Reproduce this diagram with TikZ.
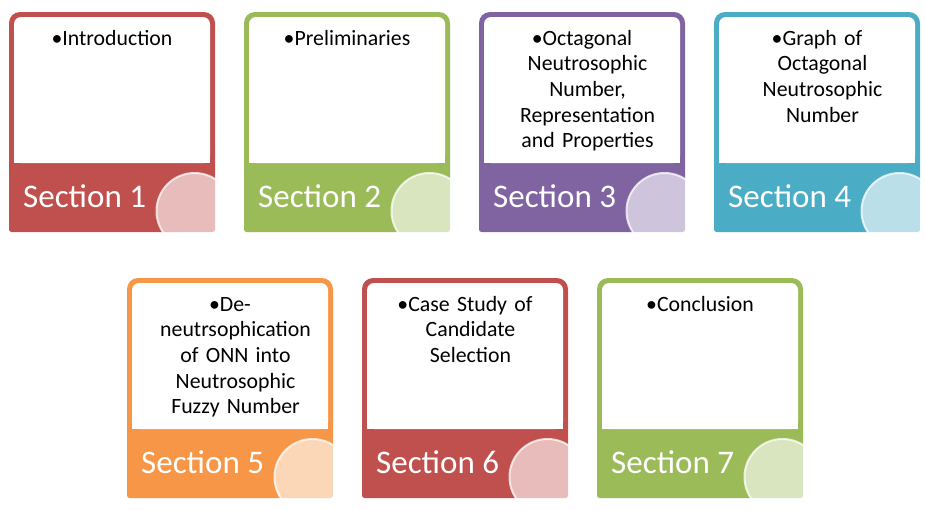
\documentclass[tikz,border=0pt]{standalone}
\usepackage{fontspec}
\setmainfont{Carlito}
\definecolor{cred}{HTML}{C0504D}
\definecolor{cgreen}{HTML}{9BBB59}
\definecolor{cpurple}{HTML}{8064A2}
\definecolor{cteal}{HTML}{4BACC6}
\definecolor{corange}{HTML}{F79646}
\newcommand\nl{\\\hspace*{11pt}}
\tikzset{
  bodytext/.style={text width=190pt, align=center, anchor=base, inner sep=0pt,
    font=\fontsize{21.8pt}{25.7pt}\selectfont, text=black},
  sectext/.style={anchor=base west, inner sep=0pt, text=white,
    font=\fontsize{33pt}{38pt}\selectfont},
  glass/.style={circle, minimum size=76pt, inner sep=0pt, fill=white, fill opacity=0.62,
    draw=white, draw opacity=0.75, line width=2pt}
}
\newcommand\mycard[5]{% id, left, top, colour, body
  \fill[#4] ({#2},{#3+110}) [rounded corners=11pt] -- ({#2},{#3}) -- ({#2+206},{#3})
     -- ({#2+206},{#3+110}) [rounded corners=2.5pt] -- ({#2+206},{#3+220}) -- ({#2},{#3+220}) -- cycle;
  \fill[white, rounded corners=7pt] ({#2+5},{#3+5}) rectangle ({#2+201},{#3+151});
  \fill[white] ({#2+5},{#3+100}) rectangle ({#2+201},{#3+151});
  \node[bodytext] (b#1) at ({#2+103},{#3+33}) {#5};
  \node[sectext] (s#1) at ({#2+14},{#3+195}) {Section #1};
}
\newcommand\myglass[3]{%
  \node[glass] (c#1) at ({#2+185.5},{#3+199}) {};
}
\begin{document}
\begin{tikzpicture}[x=1pt,y=-1pt]
\useasboundingbox (0,0) rectangle (925,509);
\clip (0,0) rectangle (925,509);
\mycard{1}{9}{12}{cred}{•Introduction}
\mycard{2}{244}{12}{cgreen}{•Preliminaries}
\mycard{3}{479}{12}{cpurple}{•Octagonal\nl Neutrosophic\nl Number,\nl Representation\nl and Properties}
\mycard{4}{714}{12}{cteal}{•Graph of\nl Octagonal\nl Neutrosophic\nl Number}
\mycard{5}{127}{278}{corange}{•De-\nl neutrsophication\nl of ONN into\nl Neutrosophic\nl Fuzzy Number}
\mycard{6}{362}{278}{cred}{•Case Study of\nl Candidate\nl Selection}
\mycard{7}{597}{278}{cgreen}{•Conclusion}
\myglass{1}{9}{12}
\myglass{2}{244}{12}
\myglass{3}{479}{12}
\myglass{4}{714}{12}
\myglass{5}{127}{278}
\myglass{6}{362}{278}
\myglass{7}{597}{278}
\end{tikzpicture}
\end{document}
